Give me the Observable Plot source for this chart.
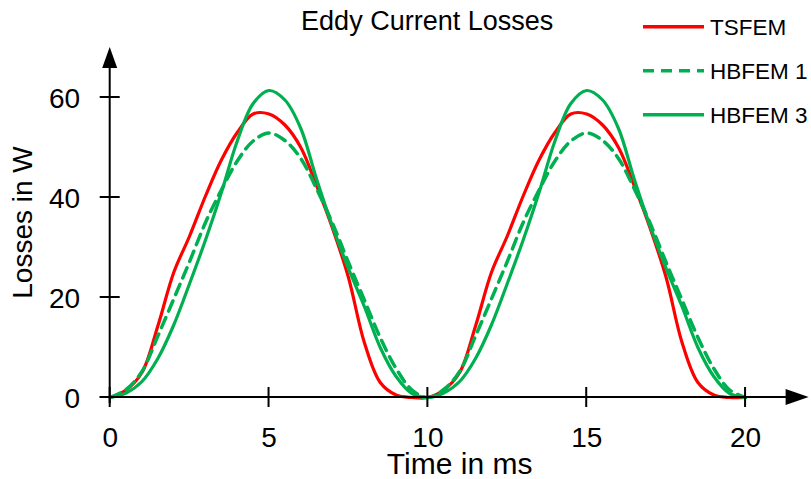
<!DOCTYPE html>
<html><head><meta charset="utf-8">
<script src="https://cdn.jsdelivr.net/npm/d3@7"></script>
<script src="https://cdn.jsdelivr.net/npm/@observablehq/plot@0.6"></script>
<style>body{margin:0;background:#fff}</style>
</head><body><div id="chart"></div>
<script>
const time = [0,0.5,1,1.5,2,2.5,3,3.5,4,4.5,5,5.5,6,6.5,7,7.5,8,8.5,9,9.5,10,
  10.5,11,11.5,12,12.5,13,13.5,14,14.5,15,15.5,16,16.5,17,17.5,18,18.5,19,19.5,20];
const tsfem = [0,1.5,5,14.3,25,32.3,40.3,47.5,53,56.7,56.7,54.5,50,42.3,33.8,24,11,3,0.5,0,0,
  1.5,5,14.3,25,32.3,40.3,47.5,53,56.7,56.7,54.5,50,42.3,33.8,24,11,3,0.5,0,0];
const hbfem1 = [0,1.6,5.2,12.3,19.7,27.2,35,41.5,47.3,51.3,52.9,51.4,47.8,41.7,34.8,27,19.5,12,5.8,1.5,0,
  1.6,5.2,12.3,19.7,27.2,35,41.5,47.3,51.3,52.9,51.4,47.8,41.7,34.8,27,19.5,12,5.8,1.5,0];
const hbfem3 = [0,0.9,3.2,7.8,14.5,22.8,31.5,41,51.3,58.8,61.4,59.5,53.8,43.6,34.2,25.8,18.2,10,4.2,0.8,0,
  0.9,3.2,7.8,14.5,22.8,31.5,41,51.3,58.8,61.4,59.5,53.8,43.6,34.2,25.8,18.2,10,4.2,0.8,0];
const xTicks = [0,5,10,15,20];
const yTicks = [0,20,40,60];
const seriesNames = ["TSFEM","HBFEM 1","HBFEM 3"];
const seriesColors = ["#ff0000","#00b050","#00b050"];
const seriesDash = [null,"11,7",null];
const titleText = "Eddy Current Losses";
const xLabel = "Time in ms";
const yLabel = "Losses in W";

const FONT = "Liberation Sans, Arial, Helvetica, sans-serif";

function axesMark(index, scales, values, dims) {
  const x = scales.x, y = scales.y;
  const g = d3.create("svg:g");
  const x0 = x(0), y0 = y(0), xEnd = x(22), yEnd = y(70);
  const ln = g.append("g").attr("stroke", "#000").attr("stroke-width", 2);
  ln.append("line").attr("x1", x0 - 10).attr("x2", xEnd - 16).attr("y1", y0).attr("y2", y0);
  ln.append("line").attr("x1", x0).attr("x2", x0).attr("y1", y0 + 6).attr("y2", yEnd + 16);
  for (const t of xTicks) ln.append("line").attr("x1", x(t)).attr("x2", x(t)).attr("y1", y0 - 10).attr("y2", y0 + 10);
  for (const t of yTicks) ln.append("line").attr("x1", x0 - 10).attr("x2", x0 + 10).attr("y1", y(t)).attr("y2", y(t));
  g.append("path").attr("fill", "#000")
    .attr("d", `M${xEnd},${y0}L${xEnd - 23},${y0 - 8}L${xEnd - 23},${y0 + 8}Z`);
  g.append("path").attr("fill", "#000")
    .attr("d", `M${x0},${yEnd}L${x0 - 7.5},${yEnd + 21}L${x0 + 7.5},${yEnd + 21}Z`);
  return g.node();
}

function legendMark(index, scales, values, dims) {
  const g = d3.create("svg:g");
  seriesNames.forEach((name, i) => {
    const yy = 26.7 + i * 44;
    g.append("line").attr("x1", 643).attr("x2", 704).attr("y1", yy).attr("y2", yy)
      .attr("stroke", seriesColors[i]).attr("stroke-width", 3.5)
      .attr("stroke-dasharray", seriesDash[i]);
    g.append("text").attr("x", 710).attr("y", yy).attr("dy", "0.36em")
      .attr("text-anchor", "start")
      .attr("font-size", 22.5).attr("font-family", FONT).attr("fill", "#000").text(name);
  });
  return g.node();
}

const chart = Plot.plot({
  width: 811, height: 479,
  marginLeft: 109.7, marginRight: 2.4, marginTop: 47, marginBottom: 82,
  x: {domain: [0, 22], axis: null},
  y: {domain: [0, 70], axis: null},
  style: {fontFamily: FONT, background: "#fff", overflow: "visible"},
  marks: [
    Plot.line(time, {x: d => d, y: (d, i) => tsfem[i], stroke: seriesColors[0], strokeWidth: 3.2, curve: "catmull-rom"}),
    Plot.line(time, {x: d => d, y: (d, i) => hbfem1[i], stroke: seriesColors[1], strokeWidth: 3.5, strokeDasharray: seriesDash[1], curve: "catmull-rom"}),
    Plot.line(time, {x: d => d, y: (d, i) => hbfem3[i], stroke: seriesColors[2], strokeWidth: 3.2, curve: "catmull-rom"}),
    axesMark,
    Plot.text(xTicks, {x: d => d, y: 0, text: d => String(d), dy: 41, lineAnchor: "middle", fontSize: 28, fill: "#000"}),
    Plot.text(yTicks, {x: 0, y: d => d, text: d => String(d), dx: -30, dy: 1.5, textAnchor: "end", lineAnchor: "middle", fontSize: 28, fill: "#000"}),
    Plot.text([xLabel], {frameAnchor: "bottom", dy: 67, lineAnchor: "middle", textAnchor: "middle", fontSize: 30, fill: "#000"}),
    Plot.text([yLabel], {frameAnchor: "left", dx: -87, rotate: -90, lineAnchor: "middle", textAnchor: "middle", fontSize: 28, fill: "#000"}),
    Plot.text([titleText], {frameAnchor: "top", dx: -32.5, dy: -26, lineAnchor: "middle", textAnchor: "middle", fontSize: 27, fill: "#000"}),
    legendMark
  ]
});
document.getElementById("chart").appendChild(chart);
</script>
</body></html>
